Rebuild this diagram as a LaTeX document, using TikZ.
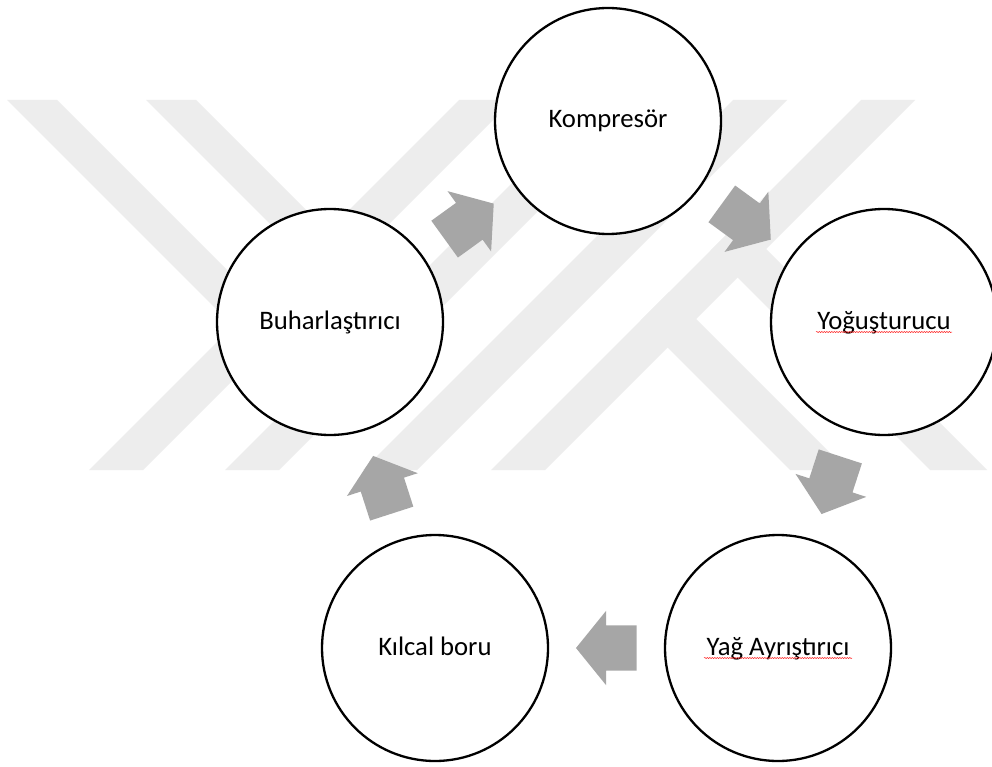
\documentclass[tikz,border=0pt]{standalone}
\usepackage{fontspec}
\setmainfont{Carlito}
\usetikzlibrary{shapes.arrows,decorations.pathmorphing,calc}
\definecolor{wm}{RGB}{237,237,237}
\definecolor{arr}{RGB}{166,166,166}
\begin{document}
\begin{tikzpicture}[x=1pt,y=-1pt,
  stage/.style={circle, draw=black, line width=2.3pt, fill=white, minimum size=226pt, inner sep=0pt,
    text height=19pt, text depth=5pt, font=\fontsize{26.7}{32}\selectfont},
  flow/.style={single arrow, draw=none, fill=arr, minimum height=60.6pt, minimum width=74pt,
    single arrow head extend=14.5pt, single arrow tip angle=102, inner xsep=0pt, inner ysep=22.5pt,
    sloped, allow upside down, anchor=tail, pos=0.4117},
  wmark/.style={fill=wm, draw=none},
  squig/.style={draw=red!85, line width=0.5pt, decorate,
    decoration={snake, amplitude=0.6pt, segment length=2.5pt}}]
\useasboundingbox (0,0) rectangle (992,767);
\fill[white] (0,0) rectangle (992,767);
% watermark
\begin{scope}
  \clip (0,100) rectangle (992,470);
  \fill[wmark] (459,100) -- (513,100) -- (143,470) -- (89,470) -- cycle;
  \fill[wmark] (595,100) -- (649,100) -- (279,470) -- (225,470) -- cycle;
  \fill[wmark] (733,100) -- (787,100) -- (417,470) -- (363,470) -- cycle;
  \fill[wmark] (861,100) -- (915,100) -- (545,470) -- (491,470) -- cycle;
  \fill[wmark] (7,100) -- (57,100) -- (285,328) -- (260,353) -- cycle;
  \fill[wmark] (146,100) -- (196,100) -- (422.5,326.5) -- (397.5,351.5) -- cycle;
  \fill[wmark] (640.5,320.5) -- (669,292) -- (847,470) -- (790,470) -- cycle;
  \fill[wmark] (710.5,250.5) -- (739,222) -- (987,470) -- (930,470) -- cycle;
\end{scope}
% stages
\node[stage] (K) at (608,121) {Kompresör};
\node[stage] (Y) at (884,322) {Yoğuşturucu};
\node[stage] (A) at (778,648) {Yağ Ayrıştırıcı};
\node[stage] (C) at (435,648) {Kılcal boru};
\node[stage] (B) at (330,322) {Buharlaştırıcı};
% flow arrows
\path (B.center) -- node[flow] (a1) {} (K.center);
\path (K.center) -- node[flow] (a2) {} (Y.center);
\path (Y.center) -- node[flow] (a3) {} (A.center);
\path (A.center) -- node[flow] (a4) {} (C.center);
\path (C.center) -- node[flow] (a5) {} (B.center);
% spell-check squiggles
\draw[squig] ($(Y.base)+(-68,3)$) -- ($(Y.base)+(68,3)$);
\draw[squig] ($(A.base)+(-74,3)$) -- ($(A.base)+(74,3)$);
\end{tikzpicture}
\end{document}
